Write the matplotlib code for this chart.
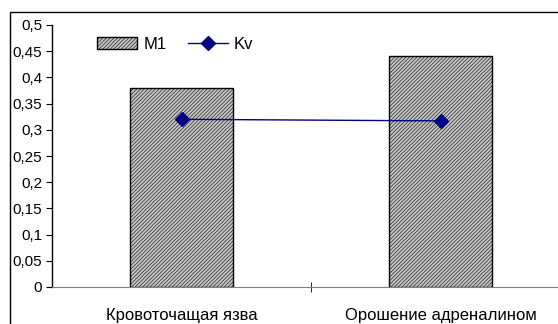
import matplotlib
matplotlib.use("Agg")
import matplotlib.pyplot as plt
from matplotlib.patches import Rectangle, Patch
from matplotlib.lines import Line2D
from matplotlib.ticker import FixedLocator, FuncFormatter

plt.rcParams['font.family'] = ['Liberation Sans', 'DejaVu Sans']
plt.rcParams['hatch.color'] = '#acacac'
plt.rcParams['hatch.linewidth'] = 0.4

# data
categories = ['Кровоточащая язва', 'Орошение адреналином']
m1 = [0.38, 0.44]
kv = [0.32, 0.317]
yticks = [0, 0.05, 0.1, 0.15, 0.2, 0.25, 0.3, 0.35, 0.4, 0.45, 0.5]

W, H = 558, 324
fig = plt.figure(figsize=(W / 100, H / 100), dpi=100)

# outer chart-area border (cropped at right and bottom)
fig.patches.append(Rectangle((10 / W, -0.1), 1.2, 1.1 - 12 / H,
                             transform=fig.transFigure, fill=False,
                             edgecolor='black', linewidth=1.0))

ax = fig.add_axes([52 / W, 37 / H, (570 - 52) / W, 262 / H])
x = list(range(len(categories)))

ax.bar(x, m1, width=0.4, facecolor='#c6c6c6', edgecolor='black',
       linewidth=1.0, hatch='/////////', zorder=2)
ax.plot(x, kv, color='#000080', linewidth=1.0, marker='D', markersize=7,
        zorder=3)

ax.set_xlim(-0.5, len(categories) - 0.5)
ax.set_ylim(0, 0.5)

ax.spines['top'].set_visible(False)
ax.spines['right'].set_visible(False)
ax.spines['bottom'].set_color('#808080')
ax.spines['left'].set_linewidth(1.0)

ax.yaxis.set_major_locator(FixedLocator(yticks))
ax.yaxis.set_major_formatter(FuncFormatter(lambda v, p: ('%g' % v).replace('.', ',')))
ax.tick_params(axis='y', direction='out', length=4, pad=3, labelsize=11)

ax.set_xticks(x)
ax.set_xticklabels(categories, fontsize=12)
ax.set_xticks([i + 0.5 for i in x[:-1]], minor=True)
ax.tick_params(axis='x', which='major', length=0, pad=15)
ax.tick_params(axis='x', which='minor', direction='inout', length=7,
               color='black')

handles = [Patch(facecolor='#c6c6c6', edgecolor='black', hatch='/////////',
                 linewidth=1.0, label='M1'),
           Line2D([], [], color='#000080', linewidth=1.0, marker='D',
                  markersize=7, label='Kv')]
ax.legend(handles=handles, ncol=2, frameon=False, fontsize=12,
          loc='upper left', bbox_to_anchor=(0.065, 1.0),
          handlelength=2.4, handleheight=0.75, handletextpad=0.35,
          columnspacing=1.3, borderaxespad=0.3)

fig.savefig('out.png', dpi=100)
